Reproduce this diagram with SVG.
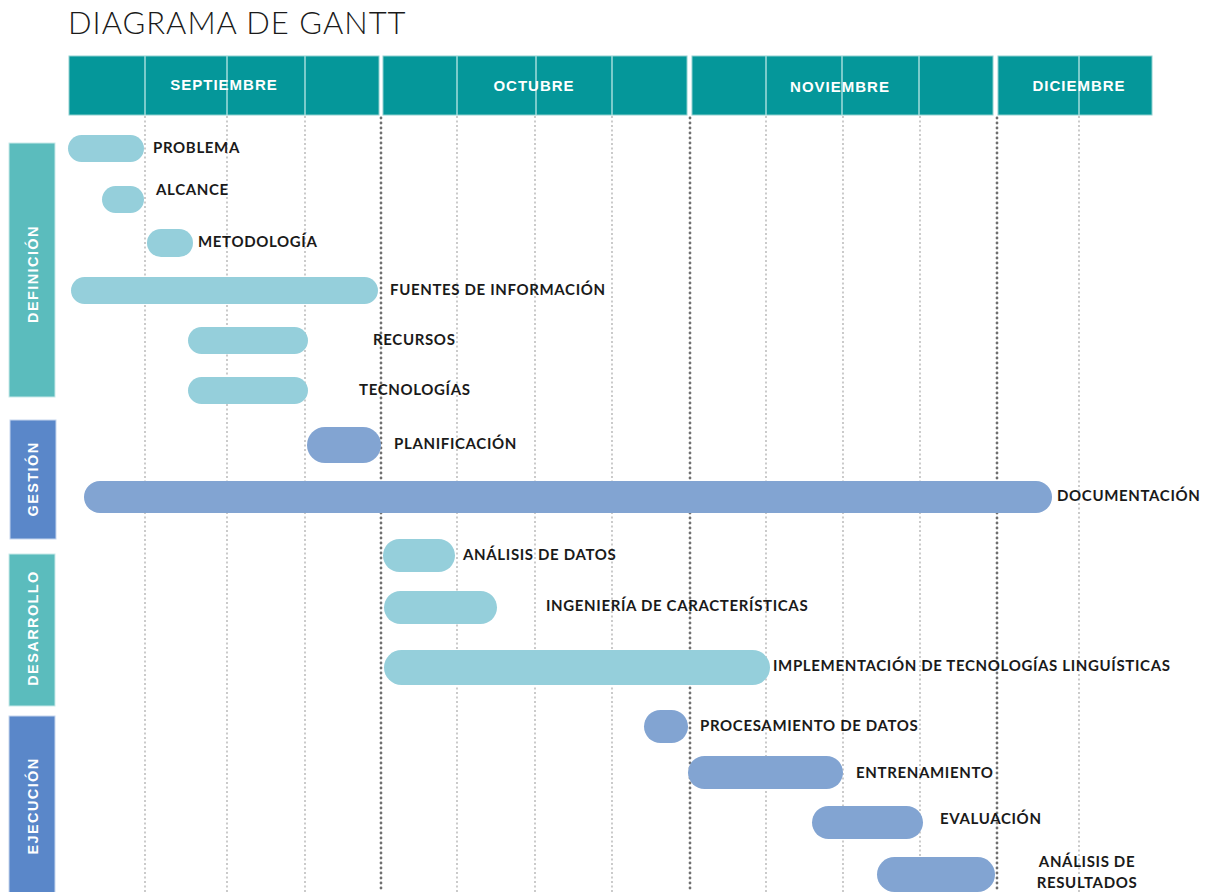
<svg xmlns="http://www.w3.org/2000/svg" width="1207" height="892" viewBox="0 0 1207 892">
<defs>
<style>
.title{font-family:Lato,"Liberation Sans",sans-serif;font-weight:300;font-size:31px;fill:#1a1a1a;letter-spacing:1px}
.hdr{fill:#05979a;stroke:#8fd0cf;stroke-width:1}
.hdiv{stroke:#a3dcdb;stroke-width:1.5}
.month{font-family:"Liberation Sans",Arial,sans-serif;font-weight:bold;font-size:15px;fill:#fff;text-anchor:middle;letter-spacing:1px}
.fine{stroke:#a8a8a8;stroke-width:1.2;stroke-dasharray:2 2.5}
.heavy{stroke:#6f6f6f;stroke-width:2.8;stroke-dasharray:0 5;stroke-linecap:round}
.catT{fill:#5bbcbd;stroke:#c9e9e9;stroke-width:1}
.catB{fill:#5a87c9;stroke:#c6d6ee;stroke-width:1}
.cat{font-family:"Liberation Sans",Arial,sans-serif;font-weight:bold;font-size:14.5px;fill:#fff;text-anchor:middle;letter-spacing:1.4px}
.lt{fill:#95cfdb}
.dk{fill:#82a4d2}
.lbl{font-family:Lato,"Liberation Sans",sans-serif;font-weight:bold;font-size:15px;fill:#1a1a1a;letter-spacing:0.65px}
</style>
</defs>
<rect width="1207" height="892" fill="#fff"/>
<text class="title" x="68" y="34">DIAGRAMA DE GANTT</text>

<g id="grid">
<line class="fine" x1="145" y1="116" x2="145" y2="892"/>
<line class="fine" x1="227" y1="116" x2="227" y2="892"/>
<line class="fine" x1="305" y1="116" x2="305" y2="892"/>
<line class="fine" x1="457" y1="116" x2="457" y2="892"/>
<line class="fine" x1="535" y1="116" x2="535" y2="892"/>
<line class="fine" x1="612" y1="116" x2="612" y2="892"/>
<line class="fine" x1="766" y1="116" x2="766" y2="892"/>
<line class="fine" x1="843" y1="116" x2="843" y2="892"/>
<line class="fine" x1="920" y1="116" x2="920" y2="892"/>
<line class="fine" x1="1079" y1="116" x2="1079" y2="892"/>
<line class="heavy" x1="381" y1="118" x2="381" y2="892"/>
<line class="heavy" x1="690" y1="118" x2="690" y2="892"/>
<line class="heavy" x1="997" y1="118" x2="997" y2="892"/>
</g>

<g id="header">
<rect class="hdr" x="69" y="56" width="310" height="59"/>
<line class="hdiv" x1="145" y1="56" x2="145" y2="115"/>
<line class="hdiv" x1="227" y1="56" x2="227" y2="115"/>
<line class="hdiv" x1="305" y1="56" x2="305" y2="115"/>
<text class="month" x="224" y="90">SEPTIEMBRE</text>
<rect class="hdr" x="383" y="56" width="304" height="59"/>
<line class="hdiv" x1="457" y1="56" x2="457" y2="115"/>
<line class="hdiv" x1="536" y1="56" x2="536" y2="115"/>
<line class="hdiv" x1="612" y1="56" x2="612" y2="115"/>
<text class="month" x="534" y="91">OCTUBRE</text>
<rect class="hdr" x="692" y="56" width="301" height="59"/>
<line class="hdiv" x1="766" y1="56" x2="766" y2="115"/>
<line class="hdiv" x1="842" y1="56" x2="842" y2="115"/>
<line class="hdiv" x1="919" y1="56" x2="919" y2="115"/>
<text class="month" x="840" y="92">NOVIEMBRE</text>
<rect class="hdr" x="998" y="56" width="154" height="59"/>
<line class="hdiv" x1="1079" y1="56" x2="1079" y2="115"/>
<text class="month" x="1079" y="91">DICIEMBRE</text>
</g>

<g id="cat-definicion">
<rect class="catT" x="9" y="143" width="46" height="254"/>
<text class="cat" transform="translate(38,274) rotate(-90)">DEFINICIÓN</text>
</g>
<g id="cat-gestion">
<rect class="catB" x="10" y="420" width="46" height="119"/>
<text class="cat" transform="translate(38,479) rotate(-90)">GESTIÓN</text>
</g>
<g id="cat-desarrollo">
<rect class="catT" x="9" y="554" width="46" height="152"/>
<text class="cat" transform="translate(38,628) rotate(-90)">DESARROLLO</text>
</g>
<g id="cat-ejecucion">
<rect class="catB" x="9" y="716" width="46" height="180"/>
<text class="cat" transform="translate(38,806) rotate(-90)">EJECUCIÓN</text>
</g>

<g id="t-problema"><rect class="lt" x="68" y="135" width="76" height="27" rx="13.5"/><text class="lbl" x="153" y="153">PROBLEMA</text></g>
<g id="t-alcance"><rect class="lt" x="102" y="186" width="42" height="27" rx="13.5"/><text class="lbl" x="156" y="195">ALCANCE</text></g>
<g id="t-metodologia"><rect class="lt" x="147" y="229" width="46" height="28" rx="14"/><text class="lbl" x="198" y="247">METODOLOGÍA</text></g>
<g id="t-fuentes"><rect class="lt" x="71" y="277" width="307" height="27" rx="13.5"/><text class="lbl" x="390" y="295">FUENTES DE INFORMACIÓN</text></g>
<g id="t-recursos"><rect class="lt" x="188" y="327" width="120" height="27" rx="13.5"/><text class="lbl" x="373" y="345">RECURSOS</text></g>
<g id="t-tecnologias"><rect class="lt" x="188" y="377" width="120" height="27" rx="13.5"/><text class="lbl" x="359" y="395">TECNOLOGÍAS</text></g>
<g id="t-planificacion"><rect class="dk" x="307" y="427" width="74" height="36" rx="18"/><text class="lbl" x="394" y="449">PLANIFICACIÓN</text></g>
<g id="t-documentacion"><rect class="dk" x="84" y="481" width="968" height="32" rx="16"/><text class="lbl" x="1057" y="501">DOCUMENTACIÓN</text></g>
<g id="t-analisis-datos"><rect class="lt" x="383" y="539" width="72" height="33" rx="16.5"/><text class="lbl" x="463" y="560">ANÁLISIS DE DATOS</text></g>
<g id="t-ingenieria"><rect class="lt" x="384" y="591" width="113" height="33" rx="16.5"/><text class="lbl" x="546" y="611">INGENIERÍA DE CARACTERÍSTICAS</text></g>
<g id="t-implementacion"><rect class="lt" x="384" y="650" width="386" height="35" rx="17.5"/><text class="lbl" x="773" y="671">IMPLEMENTACIÓN DE TECNOLOGÍAS LINGUÍSTICAS</text></g>
<g id="t-procesamiento"><rect class="dk" x="644" y="710" width="44" height="33" rx="16.5"/><text class="lbl" x="700" y="731">PROCESAMIENTO DE DATOS</text></g>
<g id="t-entrenamiento"><rect class="dk" x="688" y="756" width="155" height="33" rx="16.5"/><text class="lbl" x="856" y="778">ENTRENAMIENTO</text></g>
<g id="t-evaluacion"><rect class="dk" x="812" y="806" width="111" height="33" rx="16.5"/><text class="lbl" x="940" y="824">EVALUACIÓN</text></g>
<g id="t-analisis-resultados"><rect class="dk" x="877" y="857" width="118" height="35" rx="17.5"/><text class="lbl" x="1087" y="867" text-anchor="middle">ANÁLISIS DE</text><text class="lbl" x="1087" y="888" text-anchor="middle">RESULTADOS</text></g>
</svg>
